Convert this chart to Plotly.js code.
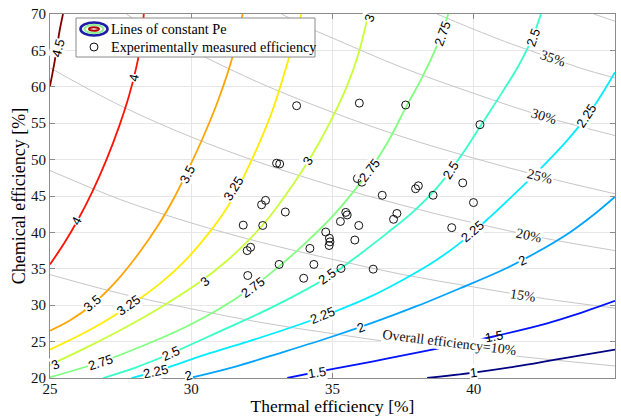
<!DOCTYPE html>
<html>
<head>
<meta charset="utf-8">
<script src="https://cdn.plot.ly/plotly-3.0.1.min.js"></script>
<style>html,body{margin:0;padding:0;background:#fff;}#chart{width:621px;height:416px;}</style>
</head>
<body>
<div id="chart"></div>
<script>
// ---- Lines of constant Pe ----
const peLevels = [1, 1.5, 2, 2.25, 2.5, 2.75, 3, 3.25, 3.5, 4, 4.5];
const peColors = ['#000080', '#0012ff', '#00a4ff', '#00edff', '#36ffc8', '#80ff80', '#c8ff36', '#ffed00', '#ffa400', '#ff1200', '#800000'];

const pe1X = [38.35, 40.0, 41.5, 43.0, 45.0];
const pe1Y = [20.0, 20.75, 21.6, 22.6, 23.9];
const pe15X = [33.4, 34.55, 36.45, 38.4, 40.7, 42.6, 43.6, 45.0];
const pe15Y = [20.0, 20.9, 22.3, 23.8, 25.7, 27.5, 28.7, 30.6];
const pe2X = [29.95, 31.5, 33.2, 35.0, 36.5, 38.0, 39.5, 41.0, 42.2, 43.4, 44.3, 45.0];
const pe2Y = [20.0, 21.5, 23.5, 25.7, 27.7, 29.9, 32.3, 34.8, 37.2, 40.0, 42.6, 44.9];
const pe225X = [27.88, 28.75, 30.5, 32.0, 33.5, 35.0, 36.3, 37.5, 38.6, 39.6, 40.6, 41.5, 42.4, 43.3, 44.2, 45.0];
const pe225Y = [20.0, 20.9, 23.2, 25.0, 26.9, 29.0, 31.1, 33.5, 36.0, 38.8, 42.2, 45.5, 48.9, 52.6, 57.0, 62.0];
const pe25X = [26.88, 28.0, 29.3, 30.5, 31.7, 32.8, 33.9, 34.9, 35.9, 36.9, 37.9, 38.8, 39.6, 40.3, 41.0, 41.6, 42.05, 42.38];
const pe25Y = [20.0, 21.4, 23.4, 25.5, 27.6, 29.6, 31.8, 34.0, 36.8, 39.8, 43.0, 46.6, 50.8, 55.0, 59.2, 63.0, 66.5, 70.0];
const pe275X = [25.0, 26.8, 28.4, 29.8, 31.0, 32.1, 33.1, 34.0, 34.9, 35.7, 36.4, 37.0, 37.6, 38.2, 38.7, 39.1];
const pe275Y = [20.1, 22.2, 24.6, 27.0, 29.5, 32.3, 35.3, 38.4, 41.8, 45.4, 49.0, 52.7, 57.2, 61.5, 65.7, 70.0];
const pe3X = [25.0, 26.3, 27.7, 29.0, 30.2, 31.2, 32.0, 32.7, 33.3, 33.9, 34.45, 35.0, 35.5, 35.9, 36.27];
const pe3Y = [21.8, 24.2, 27.0, 29.9, 32.9, 35.9, 38.8, 41.8, 44.9, 48.3, 51.8, 55.8, 60.0, 64.3, 70.0];
const pe325X = [25.0, 26.5, 27.8, 28.9, 29.8, 30.6, 31.3, 31.9, 32.4, 32.9, 33.4, 33.9];
const pe325Y = [23.9, 26.8, 29.9, 33.0, 36.2, 39.8, 43.6, 48.0, 52.2, 57.0, 63.2, 70.0];
const pe35X = [25.0, 25.7, 26.5, 27.3, 28.1, 28.8, 29.4, 29.9, 30.4, 30.9, 31.4, 31.82];
const pe35Y = [26.5, 27.9, 30.1, 33.1, 36.9, 40.8, 44.8, 48.7, 52.9, 57.6, 63.3, 70.0];
const pe4X = [25.0, 25.5, 26.0, 26.5, 27.0, 27.45, 27.8, 28.05, 28.22, 28.32];
const pe4Y = [35.6, 38.5, 41.8, 45.6, 50.0, 54.6, 58.8, 62.6, 66.0, 70.0];
const pe45X = [25.0, 25.17, 25.34, 25.46];
const pe45Y = [60.1, 63.6, 67.7, 70.0];

const peXs = [pe1X, pe15X, pe2X, pe225X, pe25X, pe275X, pe3X, pe325X, pe35X, pe4X, pe45X];
const peYs = [pe1Y, pe15Y, pe2Y, pe225Y, pe25Y, pe275Y, pe3Y, pe325Y, pe35Y, pe4Y, pe45Y];

// Contour labels
const peLabelText = ['4.5', '4', '4', '3.5', '3.5', '3.25', '3.25', '3', '3', '3', '3', '2.75', '2.75', '2.75', '2.75', '2.5', '2.5', '2.5', '2.5', '2.25', '2.25', '2.25', '2.25', '2', '2', '2', '1.5', '1'];
const peLabelX = [25.28, 27.95, 25.95, 29.85, 26.48, 31.5, 27.77, 36.3, 34.1, 30.48, 25.2, 38.9, 36.3, 32.17, 26.78, 42.1, 39.18, 34.8, 29.28, 44.0, 39.95, 34.63, 28.75, 41.72, 36.0, 29.9, 34.45, 40.0];
const peLabelY = [65.3, 61.2, 41.6, 48.0, 30.3, 46.0, 29.95, 69.4, 49.8, 33.3, 21.8, 67.3, 48.5, 32.5, 22.1, 66.8, 48.5, 34.0, 23.3, 56.0, 40.1, 28.55, 20.9, 36.1, 27.0, 20.3, 20.7, 20.7];
const peLabelAngle = [-75, -78, -62, -63, -40, -58, -35, -70, -58, -40, -25, -70, -52, -36, -18, -70, -58, -36, -24, -57, -40, -22, -12, -24, -20, -15, -9, -7];
const pe15LabelText = '1.5';
const pe15LabelX = 40.7, pe15LabelY = 25.7;

// ---- Lines of constant overall efficiency (grey) ----
const eff10X = [25, 27.5, 30, 32.5, 35, 37.5, 40, 42.5, 45];
const eff10Y = [34.2, 31.6, 29.5, 27.6, 26.1, 24.7, 23.6, 22.6, 21.65];
const eff15X = [25, 27.5, 30, 32.5, 35, 37.5, 40, 42.5, 45];
const eff15Y = [48.5, 44.5, 41.3, 38.6, 36.3, 34.2, 32.5, 30.9, 29.6];
const eff20X = [25, 27.5, 30, 32.5, 35, 37.5, 40, 42.5, 45];
const eff20Y = [62.6, 57.4, 53.1, 49.5, 46.4, 43.7, 41.3, 39.2, 37.5];
const eff25X = [27.7, 28.75, 30, 32.5, 35, 37.5, 40, 42.5, 45];
const eff25Y = [70, 67.5, 65.0, 60.4, 56.5, 53.1, 50.2, 47.6, 45.3];
const eff30X = [33.2, 34, 35, 37.5, 40, 42.5, 45];
const eff30Y = [70, 68.4, 66.7, 62.6, 59.1, 55.9, 53.3];
const eff35X = [38.7, 39.5, 40, 41.25, 42.5, 43.75, 45];
const eff35Y = [70, 68.7, 67.9, 66.0, 64.3, 62.6, 61.2];
const eff40X = [44.25, 45];
const eff40Y = [70, 69.0];
const effXs = [eff10X, eff15X, eff20X, eff25X, eff30X, eff35X, eff40X];
const effYs = [eff10Y, eff15Y, eff20Y, eff25Y, eff30Y, eff35Y, eff40Y];

const effLabelText = ['Overall efficiency=10%', '15%', '20%', '25%', '30%', '35%'];
const effLabelX = [39.15, 41.75, 41.95, 42.35, 42.5, 42.8];
const effLabelY = [24.9, 31.3, 39.6, 47.7, 55.9, 63.9];
const effLabelAngle = [7, 9, 12, 14, 17, 19];

// ---- Experimentally measured efficiency ----
const measX = [33.73, 35.95, 37.59, 40.22, 33.02, 33.13, 35.88, 36.04, 37.94, 38.04, 36.76, 38.56, 39.61, 32.63, 32.49, 33.33, 39.99, 31.84, 32.53, 35.47, 35.52, 35.28, 35.93, 37.28, 37.16, 39.22, 34.76, 34.89, 34.91, 34.88, 34.2, 35.79, 31.98, 32.1, 33.11, 34.34, 35.3, 36.44, 32.0, 33.98];
const measY = [57.4, 57.76, 57.5, 54.8, 49.5, 49.4, 47.4, 46.9, 46.0, 46.4, 45.1, 45.1, 46.8, 44.4, 43.8, 42.8, 44.1, 41.0, 40.95, 42.75, 42.4, 41.5, 40.95, 42.6, 41.8, 40.65, 40.05, 39.2, 38.7, 38.2, 37.8, 38.95, 37.5, 37.95, 35.6, 35.6, 35.05, 34.95, 34.08, 33.7];

const xTicks = [25, 30, 35, 40, 45];
const yTicks = [20, 25, 30, 35, 40, 45, 50, 55, 60, 65, 70];

const traces = [];
effXs.forEach((xs, i) => {
  traces.push({x: xs, y: effYs[i], type: 'scatter', mode: 'lines', line: {color: '#c6c6c6', width: 1, shape: 'spline'}, hoverinfo: 'skip', showlegend: false});
});
peXs.forEach((xs, i) => {
  traces.push({x: xs, y: peYs[i], type: 'scatter', mode: 'lines', name: 'Pe=' + peLevels[i], line: {color: peColors[i], width: 1.8, shape: 'spline', smoothing: 1}, showlegend: false});
});
traces.push({x: measX, y: measY, type: 'scatter', mode: 'markers', name: 'Experimentally measured efficiency',
  marker: {symbol: 'circle-open', size: 8, color: '#111', line: {width: 1, color: '#111'}}, showlegend: false});

const annotations = [];
effLabelText.forEach((t, i) => {
  annotations.push({x: effLabelX[i], y: effLabelY[i], xref: 'x', yref: 'y', text: t, showarrow: false, textangle: effLabelAngle[i],
    font: {family: 'Liberation Serif', size: 14, color: '#111'}, bgcolor: '#ffffff', borderpad: 0});
});
peLabelText.forEach((t, i) => {
  annotations.push({x: peLabelX[i], y: peLabelY[i], xref: 'x', yref: 'y', text: t, showarrow: false, textangle: peLabelAngle[i],
    font: {family: 'Liberation Sans', size: 13, color: '#000'}, bgcolor: '#ffffff', borderpad: 0});
});
annotations.push({x: pe15LabelX, y: pe15LabelY, xref: 'x', yref: 'y', text: pe15LabelText, showarrow: false, textangle: -11,
  font: {family: 'Liberation Sans', size: 13, color: '#000'}});

// Legend (drawn by hand)
const px = v => (v - 50) / 565;
const py = v => (378 - v) / 364;
annotations.push({x: px(109), y: py(29), xref: 'paper', yref: 'paper', xanchor: 'left', yanchor: 'middle', text: 'Lines of constant Pe', showarrow: false,
  font: {family: 'Liberation Serif', size: 14.2, color: '#000'}});
annotations.push({x: px(109), y: py(47), xref: 'paper', yref: 'paper', xanchor: 'left', yanchor: 'middle', text: 'Experimentally measured efficiency', showarrow: false,
  font: {family: 'Liberation Serif', size: 14.2, color: '#000'}});

const shapes = [
  {type: 'rect', xref: 'paper', yref: 'paper', x0: px(76), x1: px(315), y0: py(57), y1: py(18), fillcolor: '#ffffff', line: {color: '#8a8a8a', width: 1}, layer: 'above'},
  {type: 'circle', xref: 'paper', yref: 'paper', x0: px(80.5), x1: px(107.5), y0: py(35.5), y1: py(22.5), line: {color: '#1c1ca8', width: 2.6}, layer: 'above'},
  {type: 'circle', xref: 'paper', yref: 'paper', x0: px(84.5), x1: px(103.5), y0: py(33), y1: py(25), line: {color: '#8cf08c', width: 2}, layer: 'above'},
  {type: 'circle', xref: 'paper', yref: 'paper', x0: px(89), x1: px(99), y0: py(30.8), y1: py(27.2), line: {color: '#b00000', width: 2}, layer: 'above'},
  {type: 'circle', xref: 'paper', yref: 'paper', x0: px(90), x1: px(98), y0: py(51), y1: py(43), line: {color: '#111', width: 1}, layer: 'above'}
];

const axisCommon = {
  showgrid: true, gridcolor: '#e6e6e6', gridwidth: 1, zeroline: false,
  showline: true, linecolor: '#8c8c8c', linewidth: 1, mirror: 'ticks',
  ticks: 'inside', ticklen: 5, tickcolor: '#8c8c8c',
  tickfont: {family: 'Liberation Serif', size: 15, color: '#111'}, tickmode: 'array'
};

const layout = {
  width: 621, height: 416,
  margin: {l: 50, r: 6, t: 14, b: 38},
  paper_bgcolor: '#ffffff', plot_bgcolor: '#ffffff',
  xaxis: Object.assign({}, axisCommon, {range: [25, 45], tickvals: xTicks, ticktext: xTicks.map(String), ticklabelstandoff: -3,
    title: {text: 'Thermal efficiency [%]', font: {family: 'Liberation Serif', size: 17.5, color: '#000'}, standoff: 3}}),
  yaxis: Object.assign({}, axisCommon, {range: [20, 70], tickvals: yTicks, ticktext: yTicks.map(String),
    title: {text: 'Chemical efficiency [%]', font: {family: 'Liberation Serif', size: 18, color: '#000'}, standoff: 0}}),
  annotations: annotations,
  shapes: shapes,
  showlegend: false
};

Plotly.newPlot('chart', traces, layout, {displayModeBar: false, staticPlot: true});
</script>
</body>
</html>
